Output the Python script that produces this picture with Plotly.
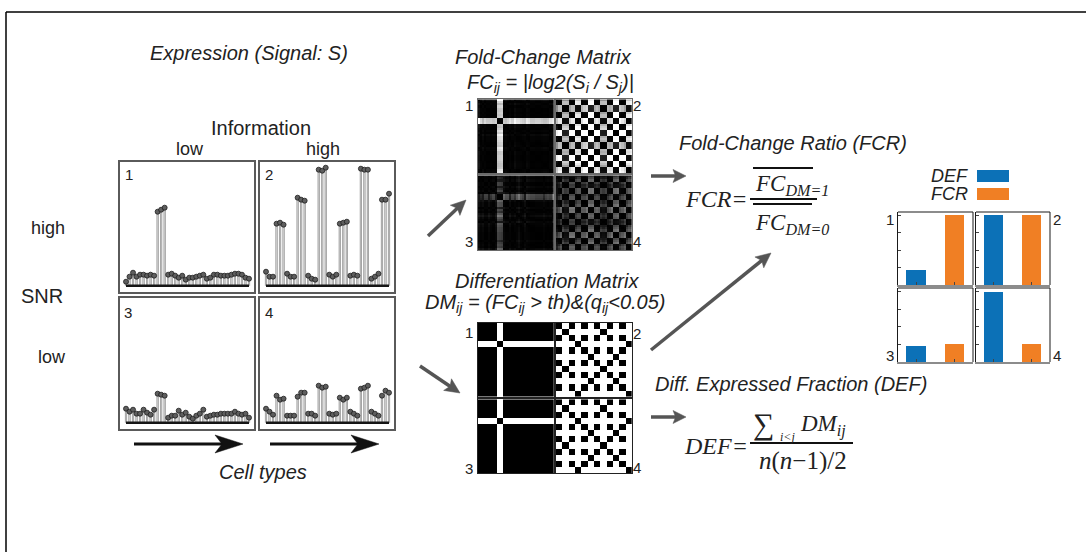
import numpy as np
import plotly.graph_objects as go

W, H = 1086, 552

# ---------------- data ----------------
# Expression of 36 cell types in the four scenarios (arbitrary signal units)
sig_snr_high_info_low = [4, 9, 13, 9, 11, 11, 10, 11, 10, 74, 76, 78,
                         11, 12, 10, 8, 10, 6, 8, 8, 9, 10, 11, 7,
                         8, 11, 11, 10, 10, 10, 11, 12, 12, 11, 8, 7]
sig_snr_high_info_high = [14, 9, 9, 62, 63, 61, 12, 9, 9, 88, 86, 85,
                          10, 7, 6, 116, 115, 118, 11, 9, 11, 62, 63, 64,
                          10, 11, 10, 117, 116, 116, 7, 9, 12, 86, 86, 92]
sig_snr_low_info_low = [14, 11, 13, 9, 9, 13, 10, 8, 13, 29, 28, 27,
                        5, 7, 7, 12, 8, 10, 6, 4, 7, 9, 13, 6,
                        7, 8, 8, 9, 9, 9, 9, 11, 9, 8, 9, 5]
sig_snr_low_info_high = [14, 11, 8, 27, 23, 24, 7, 7, 7, 26, 30, 30,
                         9, 9, 7, 37, 35, 36, 9, 8, 9, 25, 23, 25,
                         11, 9, 7, 34, 35, 37, 11, 9, 7, 27, 32, 30]

# significant (q<0.05) cluster labels of the cell types
groups_info_low = [0, 0, 0, 0, 0, 0, 0, 0, 0, 1, 1, 1,
                   0, 0, 0, 0, 0, 0, 0, 0, 0, 0, 0, 0,
                   0, 0, 0, 0, 0, 0, 0, 0, 0, 0, 0, 0]
groups_info_high = [0, 0, 0, 1, 1, 1, 0, 0, 0, 2, 2, 2,
                    0, 0, 0, 3, 3, 3, 0, 0, 0, 1, 1, 1,
                    0, 0, 0, 3, 3, 3, 0, 0, 0, 2, 2, 2]

panel_ids = ["1", "2", "3", "4"]
panel_signals = [sig_snr_high_info_low, sig_snr_high_info_high,
                 sig_snr_low_info_low, sig_snr_low_info_high]
panel_groups = [groups_info_low, groups_info_high, groups_info_low, groups_info_high]
pseudo_count = 10

bar_metrics = ["DEF", "FCR"]
def_values = [0.22, 1.0, 0.23, 1.0]
fcr_values = [1.0, 1.0, 0.26, 0.26]

BLUE = "#0C71B7"
ORANGE = "#F07F24"
SANS = "Liberation Sans, Arial, sans-serif"
SERIF = "Liberation Serif, DejaVu Serif, serif"
TXT = "#222222"


def X(px):
    return px / W


def Y(py):
    return 1 - py / H


def dom_x(a, b):
    return [X(a), X(b)]


def dom_y(a, b):
    return [Y(b), Y(a)]


fig = go.Figure()
layout = {}
shapes = []
annotations = []


def sfx(k):
    return "" if k == 1 else str(k)


# ---------------- stem panels ----------------
stem_boxes = [(120, 254, 162, 292), (260, 394, 162, 292),
              (120, 254, 298, 429), (260, 394, 298, 429)]
for p, (sig, box) in enumerate(zip(panel_signals, stem_boxes)):
    k = p + 1
    n = len(sig)
    xs, ys = [], []
    for i, v in enumerate(sig):
        xs += [i, i, None]
        ys += [0, v, None]
    xa, ya = "x" + sfx(k), "y" + sfx(k)
    fig.add_trace(go.Scatter(x=xs, y=ys, mode="lines", xaxis=xa, yaxis=ya,
                             line=dict(color="#8e8e8e", width=2.2), hoverinfo="skip"))
    fig.add_trace(go.Scatter(x=xs, y=ys, mode="lines", xaxis=xa, yaxis=ya,
                             line=dict(color="#e6e6e6", width=0.7), hoverinfo="skip"))
    fig.add_trace(go.Scatter(x=[0, n - 1], y=[0, 0], mode="lines", xaxis=xa, yaxis=ya,
                             line=dict(color="#151515", width=2.6), hoverinfo="skip"))
    fig.add_trace(go.Scatter(x=list(range(n)), y=sig, mode="markers", xaxis=xa, yaxis=ya,
                             marker=dict(size=5, color="#5e5e5e",
                                         line=dict(color="#1e1e1e", width=0.8))))
    x0, x1, y0, y1 = box
    scale = (x1 - x0 - 11) / (n - 1)
    layout["xaxis" + sfx(k)] = dict(domain=dom_x(x0, x1), range=[-6 / scale, n - 1 + 5 / scale],
                                   showgrid=False, zeroline=False, showticklabels=False,
                                   showline=True, mirror=True, linecolor="#5a5a5a", linewidth=1.5,
                                   anchor=ya, fixedrange=True)
    layout["yaxis" + sfx(k)] = dict(domain=dom_y(y0, y1), range=[-6.3, (y1 - y0) - 6.3],
                                   showgrid=False, zeroline=False, showticklabels=False,
                                   showline=True, mirror=True, linecolor="#5a5a5a", linewidth=1.5,
                                   anchor=xa, fixedrange=True)

# ---------------- fold-change and differentiation matrices ----------------
fc_scale = [[0, "#000000"], [0.1, "#050505"], [0.28, "#1c1c1c"], [0.36, "#404040"],
            [0.46, "#5c5c5c"], [0.66, "#b4b4b4"], [0.75, "#cdcdcd"], [0.9, "#ffffff"],
            [1, "#ffffff"]]
fc_boxes = [(477.7, 554, 99.3, 173.3), (556, 631.7, 99.3, 173.3),
            (477.7, 554, 175.3, 250.3), (556, 631.7, 175.3, 250.3)]
dm_boxes = [(477.7, 554, 322.7, 396.7), (556, 631.7, 322.7, 396.7),
            (477.7, 554, 399.3, 473.3), (556, 631.7, 399.3, 473.3)]
for p in range(4):
    s = np.array(panel_signals[p], dtype=float) + pseudo_count
    g = np.array(panel_groups[p])
    n = len(s)
    fc = np.abs(np.log2(s[:, None] / s[None, :]))
    dm = (g[:, None] != g[None, :]).astype(int)
    for kind, (mat, boxes, k) in enumerate([(fc, fc_boxes, 5 + p), (dm, dm_boxes, 9 + p)]):
        xa, ya = "x" + sfx(k), "y" + sfx(k)
        if kind == 0:
            fig.add_trace(go.Heatmap(z=mat.tolist(), x=list(range(n)), y=list(range(n)),
                                     colorscale=fc_scale, zmin=0, zmax=2.8, showscale=False,
                                     xaxis=xa, yaxis=ya))
            lc, lw = "#6a6a6a", 1
        else:
            fig.add_trace(go.Heatmap(z=mat.tolist(), x=list(range(n)), y=list(range(n)),
                                     colorscale=[[0, "#000000"], [1, "#ffffff"]], zmin=0, zmax=1,
                                     showscale=False, xaxis=xa, yaxis=ya))
            lc, lw = "#222222", 1
        x0, x1, y0, y1 = boxes[p]
        layout["xaxis" + sfx(k)] = dict(domain=dom_x(x0, x1), range=[-0.5, n - 0.5],
                                       showgrid=False, zeroline=False, showticklabels=False,
                                       showline=True, mirror=True, linecolor=lc, linewidth=lw,
                                       anchor=ya, fixedrange=True)
        layout["yaxis" + sfx(k)] = dict(domain=dom_y(y0, y1), range=[n - 0.5, -0.5],
                                       showgrid=False, zeroline=False, showticklabels=False,
                                       showline=True, mirror=True, linecolor=lc, linewidth=lw,
                                       anchor=xa, fixedrange=True)

# ---------------- DEF / FCR bar panels ----------------
bar_boxes = [(898, 973, 212, 285), (976, 1050, 212, 285),
             (898, 973, 288, 362), (976, 1050, 288, 362)]
for p in range(4):
    k = 13 + p
    xa, ya = "x" + sfx(k), "y" + sfx(k)
    fig.add_trace(go.Bar(x=[1, 2], y=[def_values[p], fcr_values[p]], width=0.5,
                         marker=dict(color=[BLUE, ORANGE], line=dict(width=0)),
                         xaxis=xa, yaxis=ya, hovertext=bar_metrics))
    x0, x1, y0, y1 = bar_boxes[p]
    layout["xaxis" + sfx(k)] = dict(domain=dom_x(x0, x1), range=[0.532, 2.48],
                                   tickvals=[1, 2], ticks="inside", ticklen=3, tickcolor="#444",
                                   showticklabels=False, showgrid=False, zeroline=False,
                                   showline=True, linecolor="#8c8c8c", linewidth=2,
                                   anchor=ya, fixedrange=True)
    layout["yaxis" + sfx(k)] = dict(domain=dom_y(y0, y1), range=[0, 1.05],
                                   tickvals=[0, 0.25, 0.5, 0.75, 1], ticks="inside", ticklen=3,
                                   tickcolor="#444", showticklabels=False, showgrid=False,
                                   zeroline=False, showline=True, linecolor="#1a1a1a", linewidth=1.2,
                                   anchor=xa, fixedrange=True)
    shapes.append(dict(type="line", xref=xa + " domain", yref=ya + " domain",
                       x0=1, x1=1, y0=0, y1=1, line=dict(color="#8c8c8c", width=2)))
    shapes.append(dict(type="line", xref=xa + " domain", yref=ya + " domain",
                       x0=0, x1=1, y0=1, y1=1, line=dict(color="#1a1a1a", width=1.2)))

# legend swatches
shapes.append(dict(type="rect", xref="paper", yref="paper", x0=X(977), x1=X(1009),
                   y0=Y(182), y1=Y(170), fillcolor=BLUE, line=dict(width=0)))
shapes.append(dict(type="rect", xref="paper", yref="paper", x0=X(977), x1=X(1009),
                   y0=Y(200), y1=Y(188), fillcolor=ORANGE, line=dict(width=0)))

# ---------------- outer frame ----------------
shapes.append(dict(type="line", xref="paper", yref="paper", x0=X(6), x1=1.0, y0=Y(12), y1=Y(12),
                   line=dict(color="#000", width=1.5)))
shapes.append(dict(type="line", xref="paper", yref="paper", x0=X(6), x1=X(6), y0=Y(12), y1=0,
                   line=dict(color="#000", width=1.5)))


# ---------------- arrows ----------------
def arrow(x0, y0, x1, y1, color, lw, hl, hw, notch):
    dx, dy = x1 - x0, y1 - y0
    L = (dx * dx + dy * dy) ** 0.5
    ux, uy = dx / L, dy / L
    nx, ny = -uy, ux
    ex, ey = x1 - ux * hl * 0.6, y1 - uy * hl * 0.6
    shapes.append(dict(type="line", xref="paper", yref="paper", x0=X(x0), y0=Y(y0),
                       x1=X(ex), y1=Y(ey), line=dict(color=color, width=lw)))
    bx, by = x1 - ux * hl, y1 - uy * hl
    pts = [(x1, y1), (bx + nx * hw, by + ny * hw),
           (x1 - ux * hl * (1 - notch), y1 - uy * hl * (1 - notch)),
           (bx - nx * hw, by - ny * hw)]
    path = "M " + " L ".join(f"{X(a):.5f},{Y(b):.5f}" for a, b in pts) + " Z"
    shapes.append(dict(type="path", xref="paper", yref="paper", path=path,
                       fillcolor=color, line=dict(color=color, width=0.5)))


arrow(134, 444, 243, 444, "#111", 3, 28, 9, 0.25)
arrow(270, 444, 379, 444, "#111", 3, 28, 9, 0.25)
GRAY = "#555555"
arrow(428, 236, 466, 200, GRAY, 3.5, 15, 7, 0.2)
arrow(420, 366, 460, 393, GRAY, 3.5, 15, 7, 0.2)
arrow(651, 350, 771, 253, GRAY, 3.5, 15, 7, 0.2)
arrow(651, 176, 686, 176, GRAY, 3.5, 13, 6.5, 0.2)
arrow(651, 417, 686, 417, GRAY, 3.5, 13, 6.5, 0.2)


# ---------------- text ----------------
def ann(text, x, y, size, xanchor="center", family=SANS, color=TXT, yanchor="middle"):
    annotations.append(dict(text=text, x=X(x), y=Y(y), xref="paper", yref="paper",
                            xanchor=xanchor, yanchor=yanchor, showarrow=False,
                            font=dict(family=family, size=size, color=color)))


ann("<i>Expression (Signal: S)</i>", 148, 53, 20, "left")
ann("Information", 261, 128, 20)
ann("low", 190, 149, 18)
ann("high", 323, 149, 18)
ann("SNR", 42, 296, 20)
ann("high", 48, 228, 18)
ann("low", 52, 357, 18)
ann("<i>Cell types</i>", 263, 472, 20)
for lbl, (x, y) in zip(panel_ids, [(129, 174), (269, 174), (128, 312), (269, 312)]):
    ann(lbl, x, y, 15)

ann("<i>Fold-Change Matrix</i>", 453, 57, 20, "left")
ann("<i>FC<sub>ij</sub> = |log2(S<sub>i</sub> / S<sub>j</sub>)|</i>", 465, 83, 20, "left")
ann("<i>Differentiation Matrix</i>", 453, 281, 20, "left")
ann("<i>DM<sub>ij</sub> = (FC<sub>ij</sub> &gt; th)&amp;(q<sub>ij</sub>&lt;0.05)</i>", 423, 303, 20, "left")
for lbl, (x, y) in zip(panel_ids, [(469, 105), (637, 106), (469, 242), (637, 241)]):
    ann(lbl, x, y, 15)
for lbl, (x, y) in zip(panel_ids, [(469, 332), (637, 333), (469, 468), (637, 467)]):
    ann(lbl, x, y, 15)

ann("<i>Fold-Change Ratio (FCR)</i>", 677, 143, 20, "left")
ann("<i>Diff. Expressed Fraction (DEF)</i>", 653, 384, 20, "left")

# FCR formula
ann("<i>FCR=</i>", 750, 199, 24, "right", SERIF)
ann("<i>FC<sub>DM=1</sub></i>", 753, 185, 23, "left", SERIF)
ann("<i>FC<sub>DM=0</sub></i>", 753, 224, 23, "left", SERIF)
for (xa_, xb_, yy, w) in [(753, 813, 168, 2), (750, 817, 199, 2), (753, 812, 204, 2)]:
    shapes.append(dict(type="line", xref="paper", yref="paper", x0=X(xa_), x1=X(xb_),
                       y0=Y(yy), y1=Y(yy), line=dict(color="#111", width=w)))

# DEF formula
ann("<i>DEF=</i>", 750, 446, 24, "right", SERIF)
ann("∑", 763, 424, 30, "center", SERIF)
ann("<i>i&lt;j</i>", 778, 437, 12, "left", SERIF)
ann("<i>DM<sub>ij</sub></i>", 798, 425, 23, "left", SERIF)
ann("<i>n</i>(<i>n</i>−1)/2", 803, 461, 25, "center", SERIF)
shapes.append(dict(type="line", xref="paper", yref="paper", x0=X(750), x1=X(853),
                   y0=Y(443), y1=Y(443), line=dict(color="#111", width=2)))

# legend + bar panel labels
ann("<i>DEF</i>", 970, 176, 18, "right")
ann("<i>FCR</i>", 970, 194, 18, "right")
for lbl, (x, y) in zip(panel_ids, [(890, 219), (1057, 219), (890, 355), (1057, 355)]):
    ann(lbl, x, y, 15)

layout.update(dict(width=W, height=H, margin=dict(l=0, r=0, t=0, b=0),
                   paper_bgcolor="white", plot_bgcolor="white", showlegend=False,
                   shapes=shapes, annotations=annotations, bargap=0))
fig.update_layout(**layout)
fig.write_html("out.html", config={"displayModeBar": False},
               post_script="document.body.style.margin='0';document.body.style.padding='0';")
